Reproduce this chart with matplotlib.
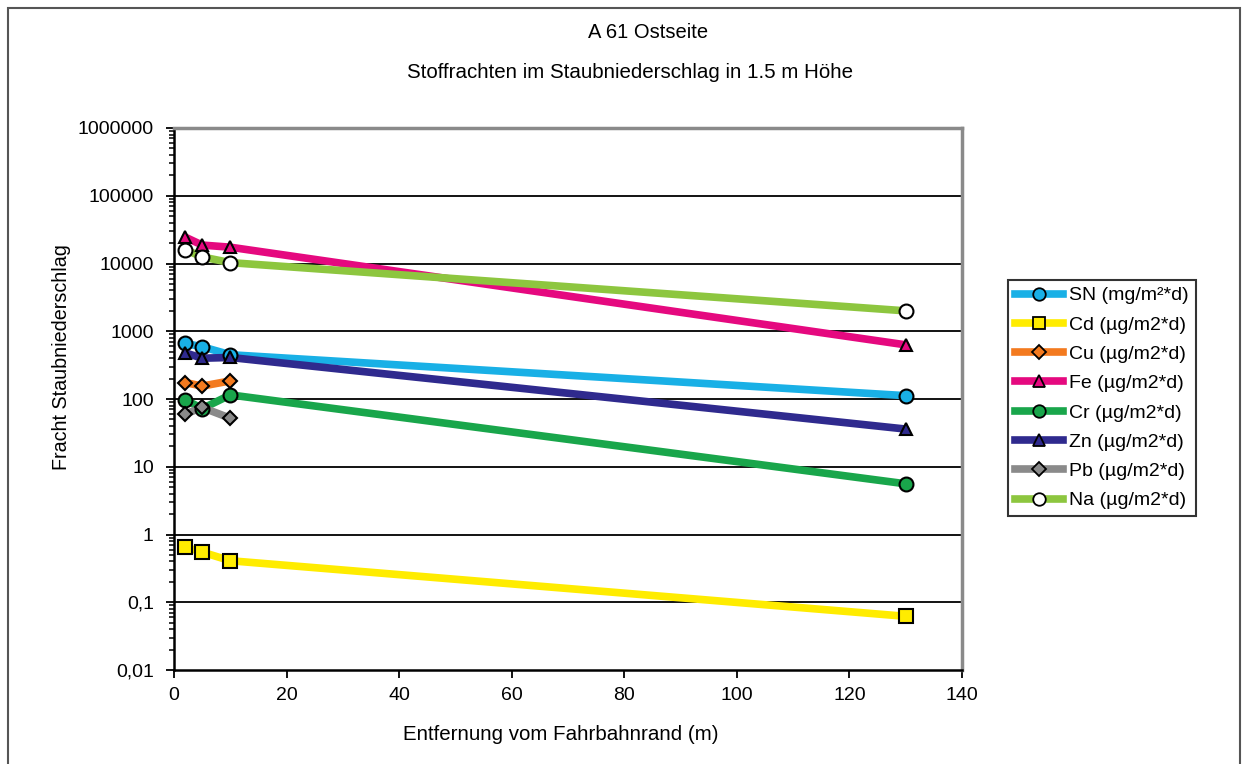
import matplotlib
matplotlib.use("Agg")
import matplotlib.pyplot as plt
from matplotlib.lines import Line2D
from matplotlib.patches import Rectangle
from matplotlib.ticker import FixedLocator, LogLocator, NullFormatter

plt.rcParams['font.family'] = ['Liberation Sans', 'DejaVu Sans']

x = [2, 5, 10, 130]
series_names = ["SN (mg/m²*d)", "Cd (µg/m2*d)", "Cu (µg/m2*d)", "Fe (µg/m2*d)",
                "Cr (µg/m2*d)", "Zn (µg/m2*d)", "Pb (µg/m2*d)", "Na (µg/m2*d)"]
SN = [660, 590, 450, 112]
Cd = [0.65, 0.55, 0.41, 0.062]
Cu = [175, 155, 185, None]
Fe = [24500, 18700, 17400, 630]
Cr = [98, 72, 115, 5.6]
Zn = [480, 400, 410, 36]
Pb = [60, 75, 52, None]
Na = [16000, 12500, 10300, 2000]
values = [SN, Cd, Cu, Fe, Cr, Zn, Pb, Na]

line_colors = ['#19b0e6', '#ffec00', '#f37a1f', '#e5097f', '#19a64b', '#2f2a8e', '#8a8a8a', '#8dc63f']
face_colors = ['#19b0e6', '#ffec00', '#f37a1f', '#e5097f', '#19a64b', '#2f2a8e', '#8a8a8a', '#ffffff']
markers = ['o', 's', 'D', '^', 'o', '^', 'D', 'o']
msizes = [10, 10, 7.5, 9, 10, 9, 7.5, 10]

yticks = [0.01, 0.1, 1, 10, 100, 1000, 10000, 100000, 1000000]
ytick_labels = ["0,01", "0,1", "1", "10", "100", "1000", "10000", "100000", "1000000"]
xticks = [0, 20, 40, 60, 80, 100, 120, 140]

fig = plt.figure(figsize=(12.48, 7.64), dpi=100)
fig.patches.append(Rectangle((8/1248, -0.05), 1232/1248, 1.05 - 8/764, transform=fig.transFigure,
                             fill=False, edgecolor='#555555', linewidth=1.5))

ax = fig.add_axes([174/1248, 1 - 670/764, 788/1248, 542/764])
ax.set_yscale('log')
ax.set_ylim(0.01, 1000000)
ax.set_xlim(0, 140)

for yv in yticks[1:-1]:
    ax.axhline(yv, color='black', linewidth=1.3, zorder=1)

handles = []
for name, vals, lc, fc, mk, ms in zip(series_names, values, line_colors, face_colors, markers, msizes):
    xs = [xi for xi, v in zip(x, vals) if v is not None]
    vs = [v for v in vals if v is not None]
    ax.plot(xs, vs, color=lc, linewidth=5.5, solid_capstyle='round', zorder=2)
    ax.plot(xs, vs, linestyle='none', marker=mk, markersize=ms, markerfacecolor=fc,
            markeredgecolor='black', markeredgewidth=1.5, zorder=3, clip_on=False)
    handles.append(Line2D([0], [0], color=lc, linewidth=5.5, marker=mk, markersize=ms * 0.9,
                          markerfacecolor=fc, markeredgecolor='black', markeredgewidth=1.3))

ax.yaxis.set_major_locator(FixedLocator(yticks))
ax.set_yticklabels(ytick_labels)
ax.yaxis.set_minor_locator(LogLocator(base=10, subs=range(2, 10), numticks=20))
ax.yaxis.set_minor_formatter(NullFormatter())
ax.set_xticks(xticks)
ax.tick_params(axis='both', which='major', direction='out', length=5.5, width=1.3, labelsize=14, colors='black')
ax.tick_params(axis='y', which='major', pad=9)
ax.tick_params(axis='x', which='major', pad=7)
ax.tick_params(axis='y', which='minor', direction='out', length=3.5, width=1.1)

ax.spines['left'].set_color('black')
ax.spines['bottom'].set_color('black')
ax.spines['left'].set_linewidth(1.8)
ax.spines['bottom'].set_linewidth(1.8)
ax.spines['top'].set_color('#8a8a8a')
ax.spines['right'].set_color('#8a8a8a')
ax.spines['top'].set_linewidth(2.5)
ax.spines['right'].set_linewidth(2.5)

fig.text(648/1248, 1 - 33/764, "A 61 Ostseite", ha='center', va='center', fontsize=14.5)
fig.text(630/1248, 1 - 73/764, "Stoffrachten im Staubniederschlag in 1.5 m Höhe", ha='center', va='center', fontsize=14.8)
fig.text(561/1248, 1 - 735/764, "Entfernung vom Fahrbahnrand (m)", ha='center', va='center', fontsize=14.8)
fig.text(62/1248, 1 - 357/764, "Fracht Staubniederschlag", ha='center', va='center', rotation=90, fontsize=14.2)

leg = fig.legend(handles, series_names, loc='upper left', bbox_to_anchor=(1008/1248, 1 - 280/764),
                 fontsize=14, frameon=True, fancybox=False, edgecolor='black', borderaxespad=0,
                 handlelength=2.5, handletextpad=0.3, labelspacing=0.6, borderpad=0.35)
leg.get_frame().set_linewidth(1.5)

fig.savefig("out.png", dpi=100)
